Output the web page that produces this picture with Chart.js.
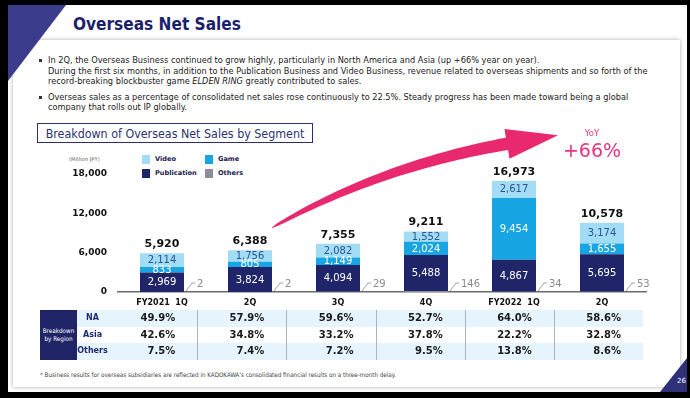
<!DOCTYPE html>
<html>
<head>
<meta charset="utf-8">
<script src="https://cdn.jsdelivr.net/npm/chart.js@4.4.1/dist/chart.umd.min.js"></script>
<style>
  html, body { margin: 0; padding: 0; }
  body { width: 690px; height: 398px; background: #000; position: relative; overflow: hidden; font-family: 'DejaVu Sans', sans-serif; }
  .abs { position: absolute; }
  .narrow { font-family: 'DejaVu Sans Condensed', 'Noto Sans', sans-serif; }
  #slide { left: 8px; top: 5px; width: 679px; height: 387px; background: #fff; }
  #panel { left: 13px; top: 40px; width: 667px; height: 347px; background: #fff; box-shadow: 0 0 4px rgba(0,0,0,.35); }
  #corner { left: 8px; top: 5px; width: 58px; height: 76px; background: #3b3d8c; clip-path: polygon(0 0, 100% 0, 0 100%); }
  #title { left: 73px; top: 12px; font-size: 19px; line-height: 24px; font-weight: bold; color: #1c1f6c; white-space: nowrap; }
  .line { position: absolute; left: 48px; white-space: nowrap; font-size: 8px; line-height: 10px; color: #222; }
  .dot { position: absolute; left: 39px; width: 3px; height: 3px; background: #333; }
  #boxTitle { left: 37px; top: 123px; width: 274px; height: 18px; border: 1.5px solid #2b2f6f; text-align: center; line-height: 18px; color: #2b3370; }
  #boxTitle span { font-size: 11px; white-space: nowrap; }
  #unit { left: 69px; top: 156px; font-size: 5.3px; color: #666; white-space: nowrap; }
  #legend { left: 142px; top: 155px; display: grid; grid-template-columns: 63px auto; grid-auto-rows: 14px; }
  .lg { display: flex; align-items: flex-start; font-size: 6.6px; font-weight: bold; color: #1d2150; white-space: nowrap; }
  .lg i { display: inline-block; width: 8px; height: 9px; margin-right: 5px; }
  .lg span { line-height: 9px; }
  #chartBox { left: 60px; top: 120px; width: 600px; height: 192px; }
  #regionHead { left: 40px; top: 310px; width: 37px; height: 50px; background: #1f2466; color: #fff; font-size: 6.3px; line-height: 8.5px; text-align: center; display: flex; align-items: center; justify-content: center; }
  .band { position: absolute; left: 77px; width: 566px; height: 16.7px; }
  .rowLabel { position: absolute; left: 77px; width: 31px; text-align: center; font-size: 8px; font-weight: bold; color: #1f2a6e; line-height: 16.7px; }
  .cell { position: absolute; box-sizing: border-box; text-align: right; padding-right: 22px; font-size: 10px; font-weight: bold; color: #1a1a1a; line-height: 16.7px; }
  .sep { position: absolute; top: 310px; width: 1px; height: 50px; background: #a7b5c8; }
  #foot { left: 40px; top: 371px; font-size: 5.5px; color: #444; white-space: nowrap; }
  #pageTri { left: 660px; top: 358px; width: 27px; height: 34px; background: #2e3178; clip-path: polygon(100% 0, 100% 100%, 0 100%); }
  #pageNo { left: 677px; top: 377px; font-size: 7px; color: #fff; }
</style>
</head>
<body>
<div id="slide" class="abs"></div>
<div id="panel" class="abs"></div>
<div id="corner" class="abs"></div>
<div id="title" class="abs narrow">Overseas Net Sales</div>

<div class="dot" style="top:59px"></div>
<div class="line narrow" style="top:55px">In 2Q, the Overseas Business continued to grow highly, particularly in North America and Asia (up +66% year on year).</div>
<div class="line narrow" id="fitLine" style="top:66px">During the first six months, in addition to the Publication Business and Video Business, revenue related to overseas shipments and so forth of the</div>
<div class="line narrow" style="top:76px">record-breaking blockbuster game <i>ELDEN RING</i> greatly contributed to sales.</div>
<div class="dot" style="top:96px"></div>
<div class="line narrow" style="top:92px">Overseas sales as a percentage of consolidated net sales rose continuously to 22.5%. Steady progress has been made toward being a global</div>
<div class="line narrow" style="top:102px">company that rolls out IP globally.</div>

<div id="boxTitle" class="abs narrow"><span>Breakdown of Overseas Net Sales by Segment</span></div>
<div id="unit" class="abs">(Million JPY)</div>
<div id="legend" class="abs"></div>

<div id="chartBox" class="abs"><canvas id="chart" width="600" height="192"></canvas></div>

<div id="regionHead" class="abs narrow"><div>Breakdown<br>by Region</div></div>
<div id="table"></div>

<div id="foot" class="abs narrow">* Business results for overseas subsidiaries are reflected in KADOKAWA's consolidated financial results on a three-month delay.</div>
<div id="pageTri" class="abs"></div>
<div id="pageNo" class="abs">26</div>

<script>
const FONT = "'DejaVu Sans', sans-serif";

const categories = ["FY2021  1Q", "2Q", "3Q", "4Q", "FY2022  1Q", "2Q"];
const publication = [2969, 3824, 4094, 5488, 4867, 5695];
const game = [833, 805, 1149, 2024, 9454, 1655];
const video = [2114, 1756, 2082, 1552, 2617, 3174];
const others = [2, 2, 29, 146, 34, 53];
const totals = [5920, 6388, 7355, 9211, 16973, 10578];
const yTicks = [0, 6000, 12000, 18000];

const regions = ["NA", "Asia", "Others"];
const naShare = [49.9, 57.9, 59.6, 52.7, 64.0, 58.6];
const asiaShare = [42.6, 34.8, 33.2, 37.8, 22.2, 32.8];
const otherShare = [7.5, 7.4, 7.2, 9.5, 13.8, 8.6];

const colors = { Video: "#a3dcf5", Game: "#17a5e3", Publication: "#1f2568", Others: "#8c8c9a" };
const legendOrder = ["Video", "Game", "Publication", "Others"];
const fmt = new Intl.NumberFormat("en-US");

// size text to the width it has on the slide
function fit(el, w) {
  const cur = parseFloat(getComputedStyle(el).fontSize);
  const now = el.getBoundingClientRect().width;
  el.style.fontSize = (cur * w / now) + "px";
  return cur * w / now;
}
const titleEl = document.getElementById("title");
titleEl.style.display = "inline-block";
fit(titleEl, 168);
const fl = document.getElementById("fitLine");
fl.style.display = "inline-block";
const bodySize = fit(fl, 600);
document.querySelectorAll(".line").forEach(el => el.style.fontSize = bodySize + "px");
fit(document.querySelector("#boxTitle span"), 259);
fit(document.getElementById("foot"), 356);

// legend
const legend = document.getElementById("legend");
legendOrder.forEach(name => {
  const d = document.createElement("div");
  d.className = "lg";
  d.innerHTML = `<i style="background:${colors[name]}"></i><span>${name}</span>`;
  legend.appendChild(d);
});

// region table
const table = document.getElementById("table");
const colLeft = 108, colW = 89.17, rowTop = 310, rowH = 16.7;
[naShare, asiaShare, otherShare].forEach((row, r) => {
  const top = rowTop + r * rowH;
  if (r !== 1) {
    const b = document.createElement("div");
    b.className = "band";
    b.style.top = top + "px";
    b.style.background = "#e6f5fd";
    table.appendChild(b);
  }
  const l = document.createElement("div");
  l.className = "rowLabel";
  l.style.top = top + "px";
  l.textContent = regions[r];
  table.appendChild(l);
  row.forEach((v, c) => {
    const cell = document.createElement("div");
    cell.className = "cell";
    cell.style.left = (colLeft + c * colW) + "px";
    cell.style.width = colW + "px";
    cell.style.top = top + "px";
    cell.textContent = v.toFixed(1) + "%";
    table.appendChild(cell);
  });
});
for (let c = 1; c < categories.length; c++) {
  const s = document.createElement("div");
  s.className = "sep";
  s.style.left = (colLeft + c * colW) + "px";
  table.appendChild(s);
}

const segLabels = {
  id: "segLabels",
  afterDatasetsDraw(chart) {
    const ctx = chart.ctx;
    ctx.save();
    ctx.textAlign = "center";
    ctx.textBaseline = "middle";
    chart.data.datasets.forEach((ds, di) => {
      if (!ds.labelColor) return;
      chart.getDatasetMeta(di).data.forEach((bar, i) => {
        ctx.font = `10px ${FONT}`;
        ctx.fillStyle = ds.labelColor;
        ctx.fillText(fmt.format(ds.data[i]), bar.x, (bar.y + bar.base) / 2 + 0.5);
      });
    });
    const topMeta = chart.getDatasetMeta(chart.data.datasets.length - 1);
    topMeta.data.forEach((bar, i) => {
      ctx.font = `bold 11px ${FONT}`;
      ctx.fillStyle = "#111";
      ctx.fillText(fmt.format(totals[i]), bar.x, bar.y - 9);
    });
    chart.getDatasetMeta(0).data.forEach((bar, i) => {
      const x0 = bar.x + bar.width / 2, y0 = bar.base;
      ctx.strokeStyle = "#8a8a8a";
      ctx.lineWidth = 0.8;
      ctx.beginPath();
      ctx.moveTo(x0 + 2, y0 - 1);
      ctx.lineTo(x0 + 8, y0 - 9);
      ctx.lineTo(x0 + 11, y0 - 9);
      ctx.stroke();
      ctx.textAlign = "left";
      ctx.font = `10px ${FONT}`;
      ctx.fillStyle = "#8a8a8a";
      ctx.fillText(fmt.format(others[i]), x0 + 13, y0 - 8);
      ctx.textAlign = "center";
    });
    ctx.restore();
  }
};

const growthArrow = {
  id: "growthArrow",
  afterDraw(chart) {
    const xs = chart.scales.x, ys = chart.scales.y, ctx = chart.ctx;
    const p = (i, v) => ({ x: xs.getPixelForValue(i), y: ys.getPixelForValue(v) });
    const a = p(1.25, 9800), c = p(2.48, 19200), b = p(3.92, 22600), tip = p(4.5, 23900);
    const up = [], lo = [];
    const N = 40;
    for (let k = 0; k <= N; k++) {
      const t = k / N, u = 1 - t;
      const x = u * u * a.x + 2 * u * t * c.x + t * t * b.x;
      const y = u * u * a.y + 2 * u * t * c.y + t * t * b.y;
      const dx = 2 * u * (c.x - a.x) + 2 * t * (b.x - c.x);
      const dy = 2 * u * (c.y - a.y) + 2 * t * (b.y - c.y);
      const len = Math.hypot(dx, dy);
      const nx = -dy / len, ny = dx / len;
      const hw = 0.3 + 6 * Math.sqrt(t);
      up.push([x - nx * hw, y - ny * hw]);
      lo.push([x + nx * hw, y + ny * hw]);
    }
    const hx = tip.x - b.x, hy = tip.y - b.y, hl = Math.hypot(hx, hy);
    const hn = [-hy / hl, hx / hl];
    ctx.save();
    ctx.fillStyle = "#e8286f";
    ctx.beginPath();
    ctx.moveTo(up[0][0], up[0][1]);
    up.forEach(q => ctx.lineTo(q[0], q[1]));
    ctx.lineTo(b.x - hn[0] * 15, b.y - hn[1] * 15);
    ctx.lineTo(tip.x, tip.y);
    ctx.lineTo(b.x + hn[0] * 15, b.y + hn[1] * 15);
    for (let k = lo.length - 1; k >= 0; k--) ctx.lineTo(lo[k][0], lo[k][1]);
    ctx.closePath();
    ctx.fill();
    const yoy = p(4.886, 24100), pct = p(4.886, 21350);
    ctx.textAlign = "center";
    ctx.textBaseline = "middle";
    ctx.fillStyle = "#e5337f";
    ctx.font = `8.5px ${FONT}`;
    ctx.fillText("YoY", yoy.x, yoy.y);
    ctx.font = `19px ${FONT}`;
    ctx.fillText("+66%", pct.x, pct.y);
    ctx.restore();
  }
};

const ds = (label, data, labelColor) => ({
  label, data, labelColor,
  backgroundColor: colors[label],
  categoryPercentage: 0.5,
  barPercentage: 1
});

new Chart(document.getElementById("chart"), {
  type: "bar",
  data: {
    labels: categories,
    datasets: [
      ds("Others", others, null),
      ds("Publication", publication, "#ffffff"),
      ds("Game", game, "#ffffff"),
      ds("Video", video, "#2a5591")
    ]
  },
  options: {
    responsive: false,
    animation: false,
    layout: { padding: { top: 54, right: 14, left: 0, bottom: 0 } },
    plugins: { legend: { display: false }, tooltip: { enabled: false } },
    scales: {
      x: {
        stacked: true,
        grid: { display: false, drawTicks: false },
        border: { display: true, color: "#6b6b6b", width: 1.5 },
        ticks: { color: "#111", font: { family: FONT, size: 8, weight: "bold" }, padding: 6, maxRotation: 0, autoSkip: false },
        afterFit: s => { s.height = 20; }
      },
      y: {
        stacked: true,
        min: 0,
        max: 18000,
        grid: { display: false, drawTicks: false },
        border: { display: false },
        afterBuildTicks: s => { s.ticks = yTicks.map(v => ({ value: v })); },
        ticks: { color: "#111", padding: 11, font: { family: FONT, size: 9, weight: "bold" }, callback: v => fmt.format(v) },
        afterFit: s => { s.width = 58; }
      }
    }
  },
  plugins: [segLabels, growthArrow]
});
</script>
</body>
</html>
